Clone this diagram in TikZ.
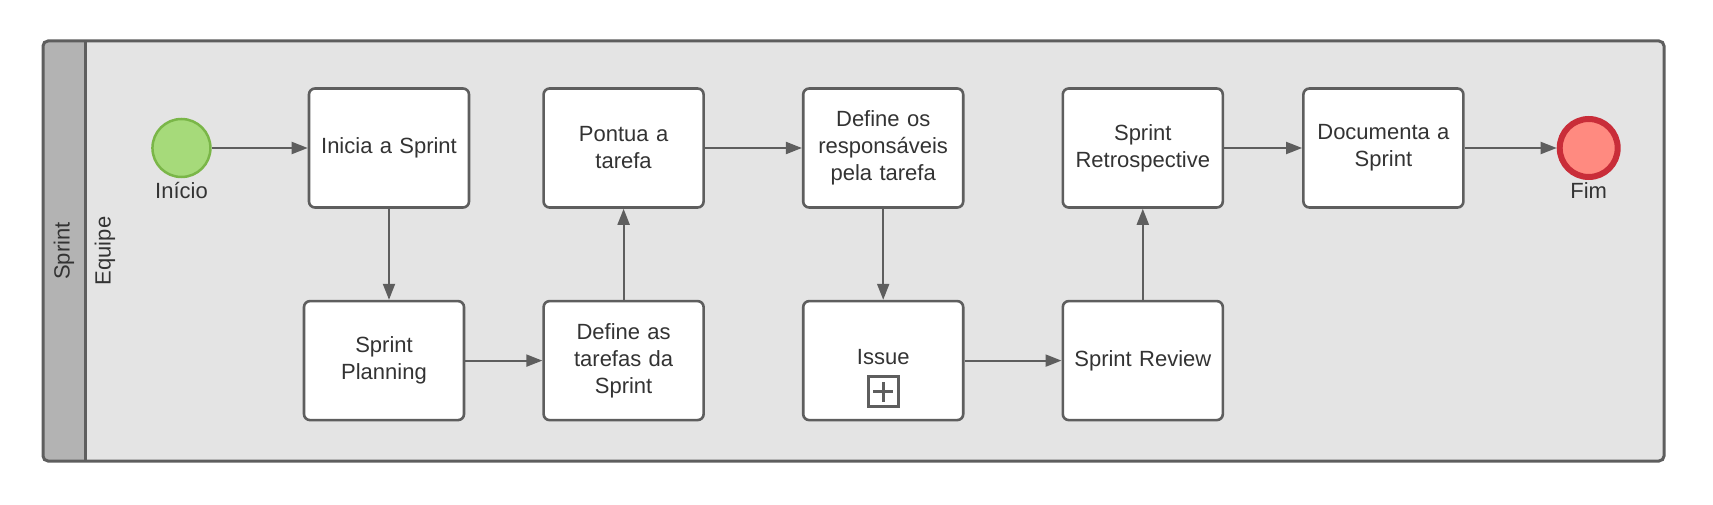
\documentclass[tikz,border=0pt]{standalone}
\usepackage{fontspec}
\setmainfont{Liberation Sans}
\usetikzlibrary{arrows.meta,positioning}
\definecolor{linegray}{HTML}{5E5E5E}
\definecolor{poolgray}{HTML}{E4E4E4}
\definecolor{stripgray}{HTML}{B3B3B3}
\definecolor{textgray}{HTML}{333333}
\definecolor{softgreen}{HTML}{A6DA7A}
\definecolor{deepgreen}{HTML}{7AB648}
\definecolor{softred}{HTML}{FF8A80}
\definecolor{deepred}{HTML}{C92D39}
\tikzset{
  task/.style={draw=linegray,line width=2.6pt,fill=white,rounded corners=6pt,
               align=center,minimum width=160pt,minimum height=119pt,
               text width=150pt,font=\fontsize{22}{27}\selectfont,text=textgray},
  event/.style={circle,minimum size=58pt,inner sep=0pt},
  lbl/.style={font=\fontsize{22}{27}\selectfont,text=textgray,inner sep=0pt},
  flow/.style={-{Triangle[length=16pt,width=12pt]},draw=linegray,line width=2pt}
}

\begin{document}
\begin{tikzpicture}[x=1pt,y=-1pt,node distance=91pt and 72pt]
  \useasboundingbox (0,0) rectangle (1713,505);
  % pool and lane
  \fill[poolgray,rounded corners=5pt] (43,41) rectangle (1664,461);
  \begin{scope}
    \clip[rounded corners=5pt] (43,41) rectangle (1664,461);
    \fill[stripgray] (43,41) rectangle (85,461);
  \end{scope}
  \draw[linegray,line width=3pt,rounded corners=5pt] (43,41) rectangle (1664,461);
  \draw[linegray,line width=3pt] (85,41) -- (85,461);
  \node[lbl,rotate=90] (poolname) at (64,251) {Sprint};
  \node[lbl,rotate=90] (lanename) at (105,251) {Equipe};

  % tasks
  \node[task] (inicia) at (389,148) {Inicia a Sprint};
  \node[task,right=of inicia] (pontua) {Pontua a\\tarefa};
  \node[task,right=97pt of pontua] (defineos) {Define os\\responsáveis\\pela tarefa};
  \node[task,right=97pt of defineos] (retro) {Sprint\\Retrospective};
  \node[task,right=78pt of retro] (documenta) {Documenta a\\Sprint};
  \node[task,below=of inicia,xshift=-5pt] (planning) {Sprint\\Planning};
  \node[task,below=of pontua] (defas) {Define as\\tarefas da\\Sprint};
  \node[task,below=of defineos] (issue) {\raisebox{7pt}{Issue}};
  \node[task,below=of retro] (review) {Sprint Review};

  % subprocess marker
  \node[draw=linegray,line width=3pt,minimum size=30pt,inner sep=0pt,
        anchor=south] (issuemark) at ([yshift=13pt]issue.south) {};
  \draw[linegray,line width=3pt] ([xshift=-10pt]issuemark.center) -- ([xshift=10pt]issuemark.center);
  \draw[linegray,line width=3pt] ([yshift=-10pt]issuemark.center) -- ([yshift=10pt]issuemark.center);

  % events
  \node[event,draw=deepgreen,fill=softgreen,line width=2.5pt,left=96pt of inicia] (inicio) {};
  \node[lbl,below=4pt of inicio] (iniciolbl) {Início};
  \node[event,draw=deepred,fill=softred,line width=6pt,right=92pt of documenta] (fim) {};
  \node[lbl,below=2pt of fim] (fimlbl) {Fim};

  % sequence flows
  \draw[flow] (inicia.south) -- (inicia.south |- planning.north);
  \foreach \a/\b in {inicio/inicia,planning/defas,defas/pontua,pontua/defineos,
                     defineos/issue,issue/review,review/retro,retro/documenta,documenta/fim}
    \draw[flow] (\a)--(\b);
\end{tikzpicture}
\end{document}
